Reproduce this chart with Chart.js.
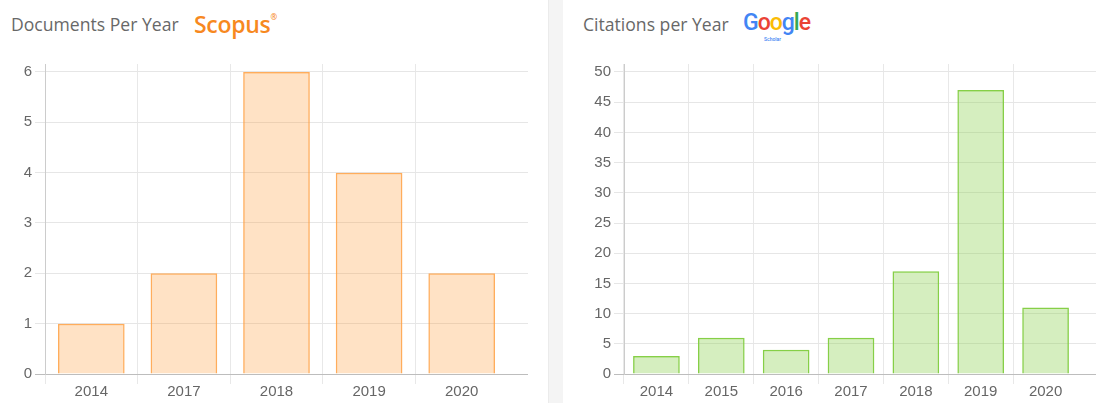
<!DOCTYPE html>
<html lang="en">
<head>
    <meta charset="UTF-8">
    <title>Documents and Citations per Year</title>
    <script src="https://cdn.jsdelivr.net/npm/chart.js"></script>
    <style>
        body {
            margin: 0;
            width: 1096px;
            height: 403px;
            overflow: hidden;
            background: #fff;
            position: relative;
            font-family: "Open Sans", Arial, sans-serif;
        }

        .title {
            position: absolute;
            top: 12px;
            font-size: 17.6px;
            color: #686868;
            white-space: nowrap;
        }

        .scopus {
            position: absolute;
            left: 194px;
            top: 8px;
            font-size: 23px;
            font-weight: 600;
            color: #f7891f;
            letter-spacing: -0.3px;
        }
        .scopus sup {
            font-size: 8px;
            position: relative;
            top: -4px;
        }

        .google {
            position: absolute;
            left: 743px;
            top: 9px;
            font-family: Roboto, Arial, sans-serif;
            font-size: 23px;
            font-weight: 500;
            letter-spacing: -1px;
        }
        .google small {
            position: absolute;
            left: 21px;
            top: 27px;
            font-size: 5px;
            letter-spacing: 0;
            color: #4285f4;
        }

        .separator {
            position: absolute;
            left: 548px;
            top: 0;
            width: 14px;
            height: 403px;
            background: #f4f4f4;
            border-left: 1px solid #ebebeb;
        }

        .box {
            position: absolute;
            top: 50px;
            height: 353px;
        }
    </style>
</head>
<body>
    <div class="title" style="left: 11px;">Documents Per Year</div>
    <div class="scopus">Scopus<sup>®</sup></div>
    <div class="separator"></div>
    <div class="title" style="left: 583px;">Citations per Year</div>
    <div class="google"><span style="color:#4285f4">G</span><span style="color:#ea4335">o</span><span style="color:#fbbc05">o</span><span style="color:#4285f4">g</span><span style="color:#34a853">l</span><span style="color:#ea4335">e</span><small>Scholar</small></div>

    <div class="box" style="left: 0; width: 548px;"><canvas id="docsChart"></canvas></div>
    <div class="box" style="left: 563px; width: 533px;"><canvas id="citesChart"></canvas></div>

    <script>
        // Documents per year (Scopus)
        const docYears = ['2014', '2017', '2018', '2019', '2020'];
        const docCounts = [1, 2, 6, 4, 2];
        const docTicks = [0, 1, 2, 3, 4, 5, 6];

        // Citations per year (Google Scholar)
        const citeYears = ['2014', '2015', '2016', '2017', '2018', '2019', '2020'];
        const citeCounts = [3, 6, 4, 6, 17, 47, 11];
        const citeTicks = [0, 5, 10, 15, 20, 25, 30, 35, 40, 45, 50];

        // the category axis stops a bit short of the right end of the grid
        const shortAxis = {
            id: 'shortAxis',
            afterLayout(chart, args, opts) {
                const x = chart.scales.x;
                x.right -= opts.gap;
                x.width -= opts.gap;
                x.configure();
            }
        };

        function makeChart(id, labels, values, ticks, colors, axisWidth, padRight, gap) {
            const top = ticks[ticks.length - 1];
            const step = ticks[1] - ticks[0];
            return new Chart(document.getElementById(id), {
                type: 'bar',
                data: {
                    labels: labels,
                    datasets: [{
                        data: values,
                        backgroundColor: colors.fill,
                        borderColor: colors.line,
                        borderWidth: 1.5
                    }]
                },
                options: {
                    animation: false,
                    responsive: true,
                    maintainAspectRatio: false,
                    layout: { padding: { top: 14, right: padRight, left: 0, bottom: 0 } },
                    plugins: {
                        legend: { display: false },
                        tooltip: { enabled: false },
                        shortAxis: { gap: gap }
                    },
                    scales: {
                        x: {
                            afterFit: s => { s.height = 29; },
                            border: { display: false },
                            grid: {
                                color: c => c.type === 'tick' ? '#e8e8e8' : 'rgba(0,0,0,0)',
                                tickLength: 10
                            },
                            ticks: {
                                color: '#666',
                                padding: 0,
                                font: { family: 'Arial', size: 15, lineHeight: 1 }
                            }
                        },
                        y: {
                            min: 0,
                            // about 8px of empty grid above the top tick
                            max: top * (1 + 8 / 302),
                            afterFit: s => { s.width = axisWidth; },
                            border: { color: '#cccccc' },
                            grid: {
                                color: c => c.tick && c.tick.value === 0 ? '#bdbdbd' : '#e6e6e6',
                                tickLength: 10
                            },
                            ticks: {
                                stepSize: step,
                                includeBounds: false,
                                color: '#666',
                                padding: 3,
                                font: { family: 'Arial', size: 15 }
                            }
                        }
                    }
                },
                plugins: [shortAxis]
            });
        }

        makeChart('docsChart', docYears, docCounts, docTicks,
            { fill: 'rgba(255, 159, 64, 0.3)', line: 'rgba(255, 159, 64, 0.85)' }, 45, 20, 20);
        makeChart('citesChart', citeYears, citeCounts, citeTicks,
            { fill: 'rgba(134, 207, 71, 0.35)', line: 'rgba(134, 207, 71, 1)' }, 61, 0, 18);
    </script>
</body>
</html>
